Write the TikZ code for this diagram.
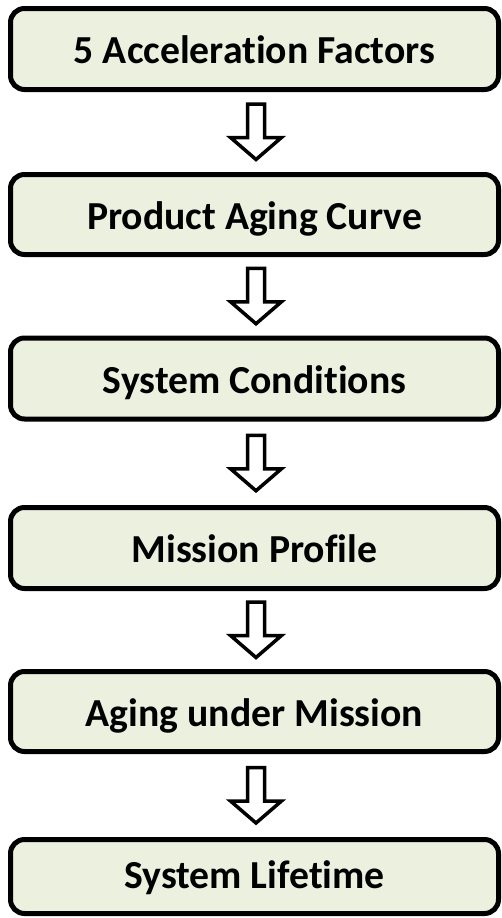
\documentclass[tikz,border=0pt]{standalone}
\usepackage{fontspec}
\setmainfont{Carlito}[RawFeature={-liga}]
\usetikzlibrary{calc}
\definecolor{boxfill}{HTML}{EBF1DE}
\tikzset{
  stepbox/.style={draw=black, line width=5pt, fill=boxfill, rounded corners=14pt,
    minimum width=488pt, inner sep=0pt, text height=29pt, text depth=0pt,
    font=\fontsize{39.7}{44}\selectfont\bfseries},
  blockarrow/.style={draw=black, line width=3.5pt, fill=white, line join=miter},
}
% hollow down arrow centred between two boxes
\newcommand{\flowarrow}[3]{%
  \coordinate (#3) at ($(#1.south)!0.5!(#2.north)+(1.5,0)$);
  \draw[blockarrow] ([shift={(-8.5,-28)}]#3) -- ([shift={(8.5,-28)}]#3)
    -- ([shift={(8.5,5.5)}]#3) -- ([shift={(25.5,5.5)}]#3)
    -- ([shift={(0,27.5)}]#3) -- ([shift={(-25.5,5.5)}]#3)
    -- ([shift={(-8.5,5.5)}]#3) -- cycle;}
\begin{document}
\begin{tikzpicture}[x=1pt, y=-1pt]
  \useasboundingbox (0,0) rectangle (502,918);
  \node[stepbox, minimum height=81pt] (b1) at (254.5,49)    {5 Acceleration Factors};
  \node[stepbox, minimum height=80pt] (b2) at (254.5,214.5) {Product Aging Curve};
  \node[stepbox, minimum height=81pt] (b3) at (254.5,378.5) {System Conditions};
  \node[stepbox, minimum height=81pt] (b4) at (254.5,548)   {Mission Profile};
  \node[stepbox, minimum height=80pt] (b5) at (254.5,711.5) {Aging under Mission};
  \node[stepbox, minimum height=74pt, text height=24pt] (b6) at (254.5,876.5) {System Lifetime};
  \flowarrow{b1}{b2}{m1}
  \flowarrow{b2}{b3}{m2}
  \flowarrow{b3}{b4}{m3}
  \flowarrow{b4}{b5}{m4}
  \flowarrow{b5}{b6}{m5}
\end{tikzpicture}
\end{document}
